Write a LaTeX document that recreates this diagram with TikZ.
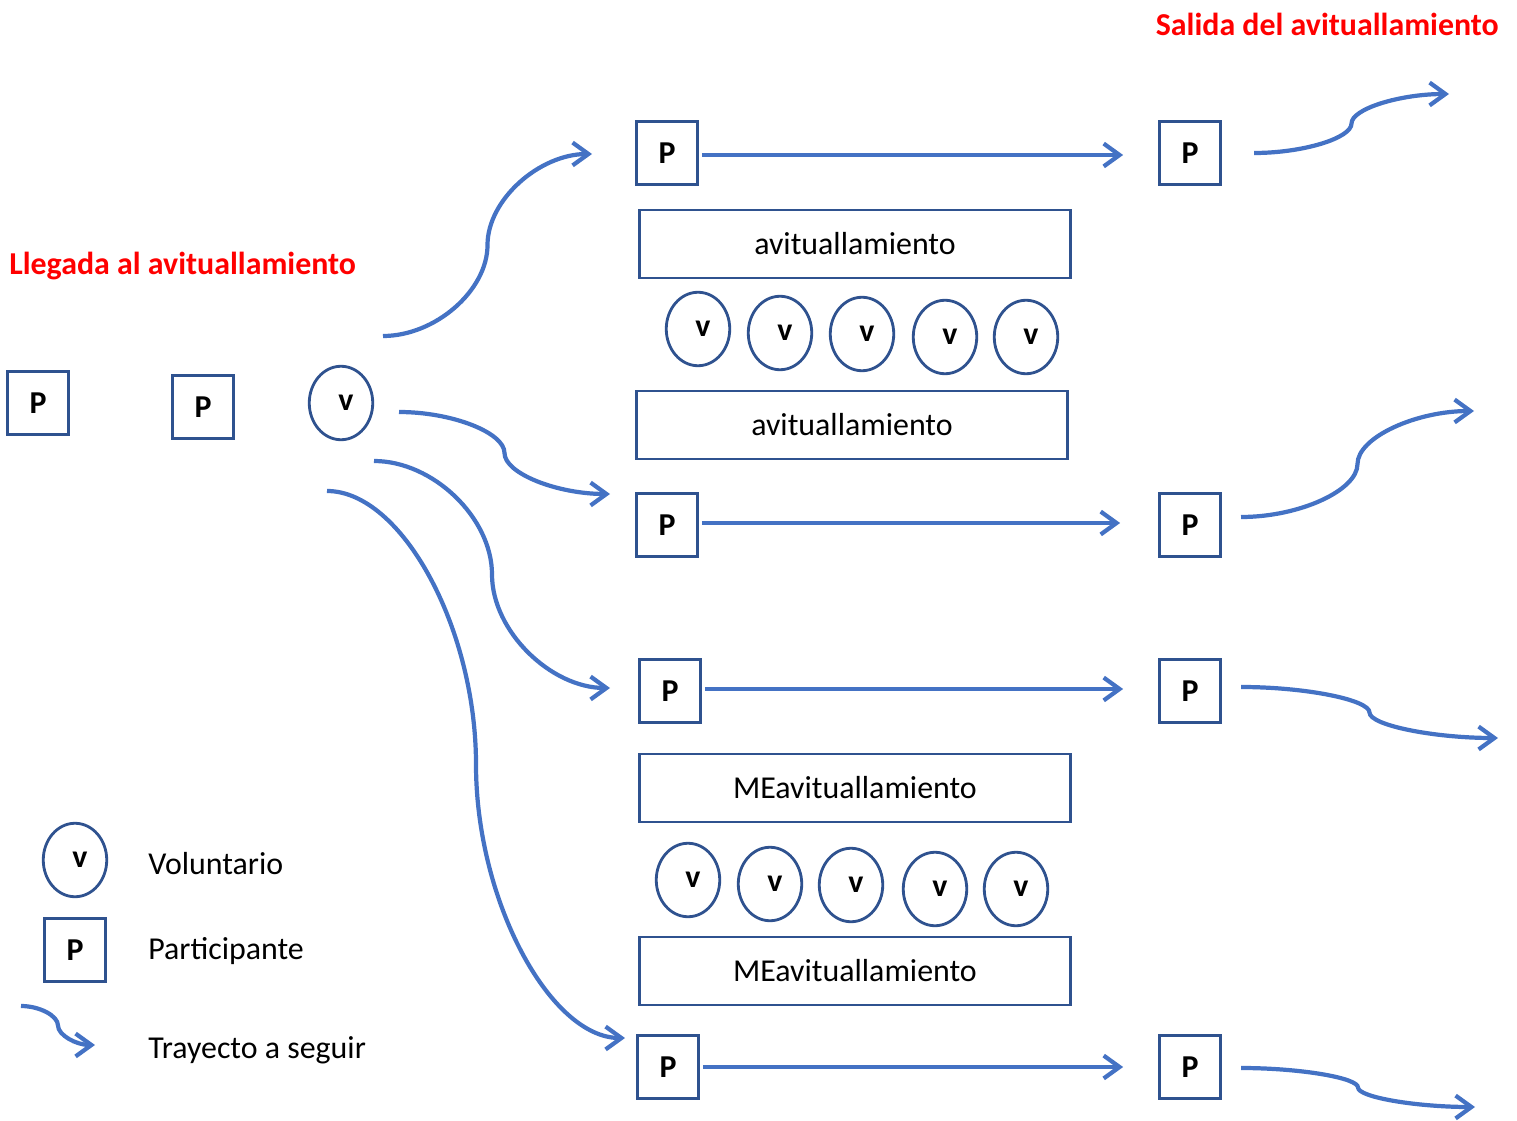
\documentclass[tikz,border=0pt]{standalone}
\usepackage{fontspec}
\setmainfont{Carlito}
\usetikzlibrary{arrows.meta,shapes.geometric,calc}
\definecolor{boxblue}{HTML}{2F528F}
\definecolor{arrblue}{HTML}{4472C4}
\newcommand{\myfs}{\fontsize{18.15}{21}\selectfont}
\begin{document}
\begin{tikzpicture}[x=0.02cm,y=-0.02cm,
  every node/.style={font=\myfs},
  pbox/.style={draw=boxblue,line width=1.6pt,minimum width=1.22cm,minimum height=1.26cm,inner sep=0pt,font=\myfs\bfseries},
  vcirc/.style={ellipse,draw=boxblue,line width=1.6pt,minimum width=1.27cm,minimum height=1.47cm,inner sep=0pt,font=\myfs\bfseries,execute at begin node={\kern0.2cm}},
  bigbox/.style={draw=boxblue,line width=1.6pt,minimum width=8.62cm,minimum height=1.36cm,inner sep=0pt},
  legtext/.style={anchor=base west,inner sep=0pt},
  title/.style={text=red,font=\myfs\bfseries,inner sep=0pt},
  arr/.style={draw=arrblue,line width=2.4pt,-{Straight Barb[length=9pt,width=13pt]}},
  curvecon/.style={to path={
    let \p1=(\tikztostart), \p2=(\tikztotarget) in
    .. controls ({0.75*\x1+0.25*\x2},\y1) and ({0.5*\x1+0.5*\x2},{0.75*\y1+0.25*\y2})
    .. ({0.5*\x1+0.5*\x2},{0.5*\y1+0.5*\y2})
    .. controls ({0.5*\x1+0.5*\x2},{0.25*\y1+0.75*\y2}) and ({0.25*\x1+0.75*\x2},\y2)
    .. (\tikztotarget)}}
]
\useasboundingbox (0,0) rectangle (1517,1121);

% titles
\node[title,anchor=base east] (tsal) at (1499,36) {Salida del avituallamiento};
\node[title,anchor=base west] (tlle) at (9,275) {Llegada al avituallamiento};

% arrival area
\node[pbox] (pl1) at (38,403) {P};
\node[pbox] (pl2) at (203,407) {P};
\node[vcirc] (vl) at (341,403) {v};

% participant rows
\node[pbox] (p1a) at (667,153) {P};
\node[pbox] (p1b) at (1190,153) {P};
\node[pbox] (p2a) at (667,525) {P};
\node[pbox] (p2b) at (1190,525) {P};
\node[pbox] (p3a) at (670,691) {P};
\node[pbox] (p3b) at (1190,691) {P};
\node[pbox] (p4a) at (668,1067) {P};
\node[pbox] (p4b) at (1190,1067) {P};

% stations
\node[bigbox] (b1) at (855,244) {avituallamiento};
\node[bigbox] (b2) at (852,425) {avituallamiento};
\node[bigbox] (b3) at (855,788) {MEavituallamiento};
\node[bigbox] (b4) at (855,971) {MEavituallamiento};

% volunteers
\node[vcirc] (va1) at (698,329) {v};
\node[vcirc] (va2) at (780,333) {v};
\node[vcirc] (va3) at (862,334) {v};
\node[vcirc] (va4) at (945,337) {v};
\node[vcirc] (va5) at (1026,337) {v};
\node[vcirc] (vb1) at (688,880) {v};
\node[vcirc] (vb2) at (770,884) {v};
\node[vcirc] (vb3) at (851,885) {v};
\node[vcirc] (vb4) at (935,889) {v};
\node[vcirc] (vb5) at (1016,889) {v};

% legend
\node[vcirc] (lv) at (75,860) {v};
\node[pbox] (lp) at (75,950) {P};
\node[legtext] (tv) at (148,874) {Voluntario};
\node[legtext] (tp) at (148,959) {Participante};
\node[legtext] (tt) at (148,1058) {Trayecto a seguir};

% straight arrows
\draw[arr,shorten <=0.06cm,shorten >=0.7cm] ([yshift=-0.04cm]p1a.east) -- ([yshift=-0.04cm]p1b.west);
\draw[arr,shorten <=0.06cm,shorten >=0.76cm] ([yshift=0.04cm]p2a.east) -- ([yshift=0.04cm]p2b.west);
\draw[arr,shorten <=0.06cm,shorten >=0.7cm] ([yshift=0.04cm]p3a.east) -- ([yshift=0.04cm]p3b.west);
\draw[arr,shorten <=0.06cm,shorten >=0.7cm] (p4a.east) -- (p4b.west);

% curve end points
\coordinate (ca0) at (383,336); \coordinate (ca1) at (592,154);
\coordinate (cb0) at (399,412); \coordinate (cb1) at (610,494);
\coordinate (cc0) at (374,461); \coordinate (cc1) at (610,688);
\coordinate (cd0) at (327,491); \coordinate (cd1) at (625,1038);
\coordinate (o10) at (1254,153); \coordinate (o11) at (1449,94);
\coordinate (o20) at (1241,517); \coordinate (o21) at (1474,411);
\coordinate (o30) at (1241,687); \coordinate (o31) at (1498,738);
\coordinate (o40) at (1241,1068); \coordinate (o41) at (1475,1107);
\coordinate (lg0) at (21,1006); \coordinate (lg1) at (95,1045);

\draw[arr] (ca0) to[curvecon] (ca1);
\draw[arr] (cb0) to[curvecon] (cb1);
\draw[arr] (cc0) to[curvecon] (cc1);
\draw[arr] (cd0) to[curvecon] (cd1);
\draw[arr] (o10) to[curvecon] (o11);
\draw[arr] (o20) to[curvecon] (o21);
\draw[arr] (o30) to[curvecon] (o31);
\draw[arr] (o40) to[curvecon] (o41);
\draw[arr] (lg0) to[curvecon] (lg1);
\end{tikzpicture}
\end{document}
